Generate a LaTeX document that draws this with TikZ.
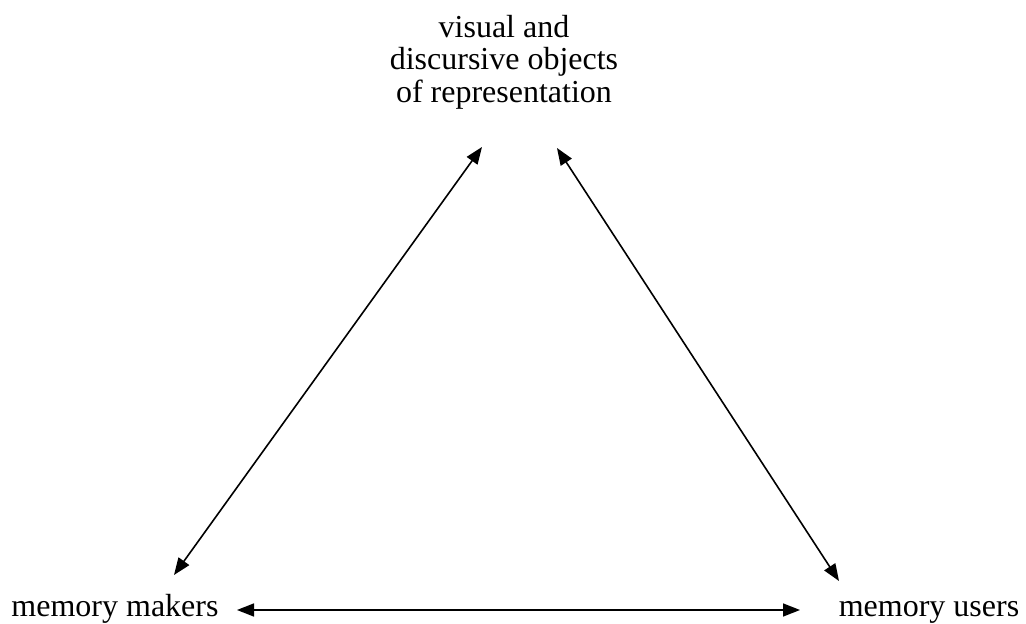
\documentclass[tikz,border=0pt]{standalone}
\usepackage{fontspec}
\setmainfont{Liberation Serif}
\usetikzlibrary{arrows.meta}
\begin{document}
\begin{tikzpicture}[x=1pt,y=1pt,
  lbl/.style={inner sep=0pt,font=\fontsize{32}{32.5}\selectfont},
  conn/.style={line width=1.6pt,{Triangle[length=17pt,width=13pt]}-{Triangle[length=17pt,width=13pt]}}]
\useasboundingbox (0,0) rectangle (1026,624);
\node[lbl,anchor=base] (mm) at (115,7) {memory makers};
\node[lbl,anchor=base] (mu) at (929,7) {memory users};
\node[lbl,anchor=north,align=center] (top) at (504,609) {visual and\\discursive objects\\of representation};
\coordinate (l1) at (174,49);
\coordinate (l2) at (482,477);
\coordinate (r1) at (557,476);
\coordinate (r2) at (839,43);
\coordinate (h1) at (237,14);
\coordinate (h2) at (800,14);
\draw[conn] (l1) -- (l2);
\draw[conn] (r1) -- (r2);
\draw[conn] (h1) -- (h2);
\end{tikzpicture}
\end{document}
